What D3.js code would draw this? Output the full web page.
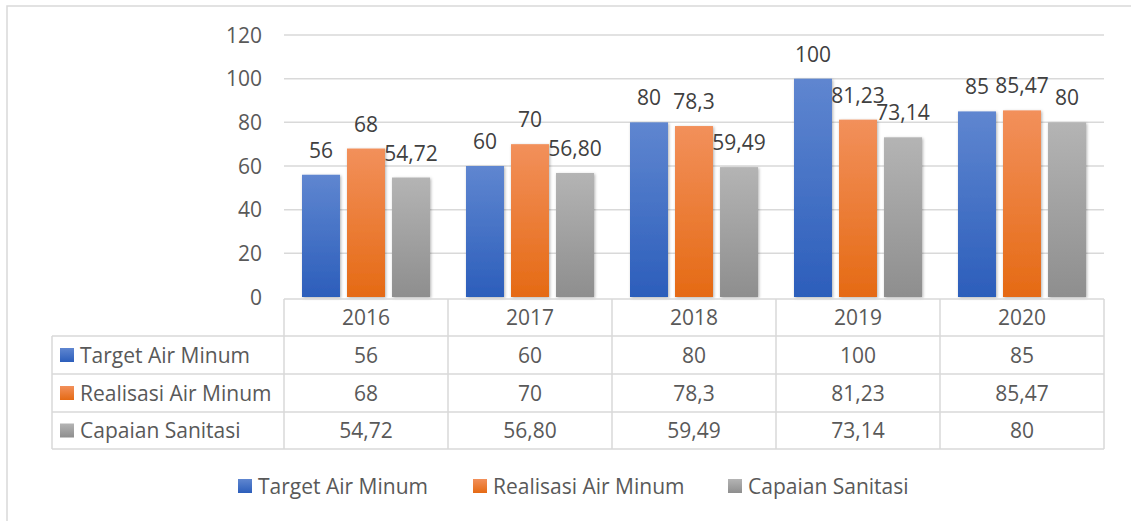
<!DOCTYPE html>
<html>
<head>
<meta charset="utf-8">
<script src="https://cdn.jsdelivr.net/npm/d3@7"></script>
<style>
  body { margin: 0; background: #fff; }
  svg text { font-family: "Open Sans", sans-serif; }
</style>
</head>
<body>
<svg id="chart"></svg>
<script>
const years = ["2016", "2017", "2018", "2019", "2020"];
const seriesNames = ["Target Air Minum", "Realisasi Air Minum", "Capaian Sanitasi"];
const targetAirMinum = [56, 60, 80, 100, 85];
const realisasiAirMinum = [68, 70, 78.3, 81.23, 85.47];
const capaianSanitasi = [54.72, 56.80, 59.49, 73.14, 80];
const targetLabels = ["56", "60", "80", "100", "85"];
const realisasiLabels = ["68", "70", "78,3", "81,23", "85,47"];
const sanitasiLabels = ["54,72", "56,80", "59,49", "73,14", "80"];
const yTicks = [0, 20, 40, 60, 80, 100, 120];

const width = 1131, height = 521;
const plot = { left: 284, right: 1104, top: 35, bottom: 297 };
const rowH = 38;
const tableTop = 299;
const tableLeft = 52;
const lineColor = "#d9d9d9";
const textColor = "#595959";

const series = [
    { name: seriesNames[0], values: targetAirMinum, labels: targetLabels, top: "#5f86d0", bottom: "#2c5ebb" },
    { name: seriesNames[1], values: realisasiAirMinum, labels: realisasiLabels, top: "#f2905b", bottom: "#e56a14" },
    { name: seriesNames[2], values: capaianSanitasi, labels: sanitasiLabels, top: "#b4b4b4", bottom: "#8e8e8e" }
];

const svg = d3.select("#chart").attr("width", width).attr("height", height);
const defs = svg.append("defs");

series.forEach((s, i) => {
    const g = defs.append("linearGradient")
        .attr("id", "grad" + i)
        .attr("x1", 0).attr("y1", 0).attr("x2", 0).attr("y2", 1);
    g.append("stop").attr("offset", "0%").attr("stop-color", s.top);
    g.append("stop").attr("offset", "100%").attr("stop-color", s.bottom);
});

const shadow = defs.append("filter").attr("id", "shadow")
    .attr("x", "-30%").attr("y", "-10%").attr("width", "160%").attr("height", "120%");
shadow.append("feDropShadow")
    .attr("dx", 1).attr("dy", 1).attr("stdDeviation", 1.8)
    .attr("flood-color", "#000").attr("flood-opacity", 0.3);

// outer border
svg.append("rect")
    .attr("x", 7).attr("y", 6)
    .attr("width", width + 10).attr("height", height + 10)
    .attr("fill", "none").attr("stroke", lineColor).attr("stroke-width", 1.5);

const x0 = d3.scaleBand().domain(years).range([plot.left, plot.right]);
const x1 = d3.scaleBand().domain(d3.range(3))
    .range([18, x0.bandwidth() - 18]).paddingInner(0.156);
const y = d3.scaleLinear().domain([0, 120]).range([plot.bottom, plot.top]);

// gridlines
svg.append("g").selectAll("line")
    .data(yTicks.filter(t => t > 0))
    .join("line")
    .attr("x1", plot.left).attr("x2", plot.right)
    .attr("y1", d => y(d)).attr("y2", d => y(d))
    .attr("stroke", lineColor).attr("stroke-width", 1.5);

// y tick labels
svg.append("g").selectAll("text")
    .data(yTicks)
    .join("text")
    .attr("x", 262).attr("y", d => y(d))
    .attr("dy", "0.36em")
    .attr("text-anchor", "end")
    .attr("font-size", 21)
    .attr("fill", textColor)
    .text(d => d);

// bars
series.forEach((s, si) => {
    const g = svg.append("g");
    g.selectAll("rect")
        .data(years)
        .join("rect")
        .attr("x", (d, i) => x0(d) + x1(si))
        .attr("width", x1.bandwidth())
        .attr("y", (d, i) => y(s.values[i]))
        .attr("height", (d, i) => y(0) - y(s.values[i]))
        .attr("fill", `url(#grad${si})`)
        .attr("filter", "url(#shadow)");

    g.selectAll("text")
        .data(years)
        .join("text")
        .attr("x", (d, i) => x0(d) + x1(si) + x1.bandwidth() / 2)
        .attr("y", (d, i) => y(s.values[i]) - 17)
        .attr("text-anchor", "middle")
        .attr("font-size", 21)
        .attr("fill", "#404040")
        .text((d, i) => s.labels[i]);
});

// data table
const table = svg.append("g");
const tableBottom = tableTop + rowH * 4 - 2;
const rowY = [tableTop, tableTop + 37, tableTop + 75, tableTop + 113, tableBottom];

// horizontal lines
table.append("line")
    .attr("x1", plot.left).attr("x2", plot.right)
    .attr("y1", rowY[0]).attr("y2", rowY[0]);
rowY.slice(1).forEach(yy => {
    table.append("line")
        .attr("x1", tableLeft).attr("x2", plot.right)
        .attr("y1", yy).attr("y2", yy);
});
// vertical lines
years.forEach(yr => {
    table.append("line")
        .attr("x1", x0(yr)).attr("x2", x0(yr))
        .attr("y1", rowY[0]).attr("y2", tableBottom);
});
table.append("line")
    .attr("x1", plot.right).attr("x2", plot.right)
    .attr("y1", rowY[0]).attr("y2", tableBottom);
table.append("line")
    .attr("x1", tableLeft).attr("x2", tableLeft)
    .attr("y1", rowY[1]).attr("y2", tableBottom);
table.selectAll("line").attr("stroke", lineColor).attr("stroke-width", 1.5);

// header years
table.selectAll("text.year")
    .data(years)
    .join("text")
    .attr("class", "year")
    .attr("x", d => x0(d) + x0.bandwidth() / 2)
    .attr("y", (rowY[0] + rowY[1]) / 2)
    .attr("dy", "0.36em")
    .attr("text-anchor", "middle")
    .attr("font-size", 21)
    .attr("fill", textColor)
    .text(d => d);

series.forEach((s, si) => {
    const cy = (rowY[si + 1] + rowY[si + 2]) / 2;
    table.append("rect")
        .attr("x", 60).attr("y", cy - 7)
        .attr("width", 14).attr("height", 14)
        .attr("fill", `url(#grad${si})`);
    table.append("text")
        .attr("x", 80).attr("y", cy)
        .attr("dy", "0.36em")
        .attr("font-size", 21)
        .attr("fill", textColor)
        .text(s.name);
    table.append("g").selectAll("text")
        .data(years)
        .join("text")
        .attr("x", d => x0(d) + x0.bandwidth() / 2)
        .attr("y", cy)
        .attr("dy", "0.36em")
        .attr("text-anchor", "middle")
        .attr("font-size", 21)
        .attr("fill", textColor)
        .text((d, i) => s.labels[i]);
});

// bottom legend
const legendX = [238, 473, 728];
const legend = svg.append("g");
series.forEach((s, si) => {
    legend.append("rect")
        .attr("x", legendX[si]).attr("y", 486 - 7)
        .attr("width", 14).attr("height", 14)
        .attr("fill", `url(#grad${si})`);
    legend.append("text")
        .attr("x", legendX[si] + 20).attr("y", 486)
        .attr("dy", "0.36em")
        .attr("font-size", 21)
        .attr("fill", textColor)
        .text(s.name);
});
</script>
</body>
</html>
